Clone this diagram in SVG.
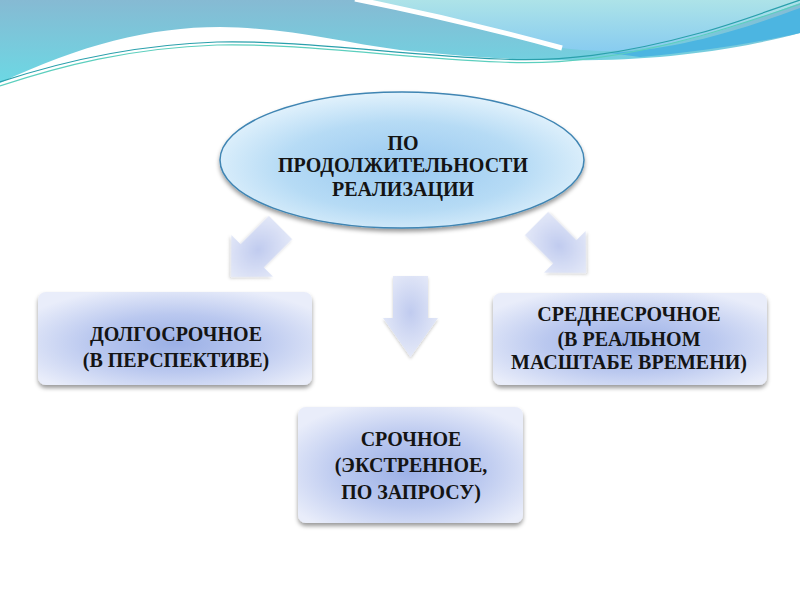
<svg xmlns="http://www.w3.org/2000/svg" width="800" height="600" viewBox="0 0 800 600">
<defs>
<linearGradient id="bandG" x1="0" y1="0" x2="0" y2="1">
<stop offset="0" stop-color="#86bad3"/>
<stop offset="1" stop-color="#6cd8e4"/>
</linearGradient>
<linearGradient id="aquaG" x1="0" y1="0" x2="0" y2="1">
<stop offset="0" stop-color="#ade3e8"/>
<stop offset="1" stop-color="#88ccf0"/>
</linearGradient>
<radialGradient id="ellG" cx="0.5" cy="0.55" r="0.55">
<stop offset="0" stop-color="#98c8f0"/>
<stop offset="0.6" stop-color="#b6dbf5"/>
<stop offset="1" stop-color="#e2f2fc"/>
</radialGradient>
<radialGradient id="boxG" cx="0.5" cy="0.55" r="0.62">
<stop offset="0" stop-color="#9bb0e6"/>
<stop offset="0.5" stop-color="#bac8ef"/>
<stop offset="1" stop-color="#e9edfa"/>
</radialGradient>
<radialGradient id="arrG" cx="0.5" cy="0.45" r="0.6">
<stop offset="0" stop-color="#c0cbef"/>
<stop offset="1" stop-color="#e8ecf9"/>
</radialGradient>
<filter id="sh" x="-10%" y="-10%" width="120%" height="130%">
<feDropShadow dx="0" dy="3" stdDeviation="2" flood-color="#000" flood-opacity="0.4"/>
</filter>
<filter id="shA" x="-20%" y="-20%" width="140%" height="140%">
<feDropShadow dx="0" dy="2" stdDeviation="1.5" flood-color="#000" flood-opacity="0.2"/>
</filter>
<path id="diag" d="M-16.5,-70 H16.5 V-30 H29.5 L0,0 L-29.5,-30 H-16.5 Z"/>
</defs>
<style>
.t{font-family:"Liberation Serif","Times New Roman",serif;font-weight:bold;font-size:20px;fill:#141414;text-anchor:middle}
.box{fill:url(#boxG);filter:url(#sh)}
.arr{fill:url(#arrG);filter:url(#shA)}
</style>
<rect width="800" height="600" fill="#ffffff"/>
<g id="background">
<path d="M0,0 H800 V33 C760,44 690,58 600,60 C520,62 450,55 400,50 C340,42 290,28 220,27 C150,27 80,45 0,83 Z" fill="url(#bandG)"/>
<path d="M610,53 C690,48 750,26 800,8 V33 C760,42 700,52 640,57 Z" fill="#4cb5e1"/>
<path d="M362,0 H800 V3 C740,25 680,48 610,51 C590,51 572,49 562,48 C500,33 420,13 362,0 Z" fill="url(#aquaG)"/>
<path d="M355,-1 C420,12 500,31 562,48" fill="none" stroke="#ffffff" stroke-width="5"/>
<path d="M0,82 C60,62 130,45 217,42 C300,40 400,55 500,59 C560,62 620,55 700,33 C740,22 770,10 800,0" fill="none" stroke="#2aa0ac" stroke-width="1.2"/>
<path d="M0,86 C60,66 130,48 217,45 C300,43 400,58 500,62 C560,65 620,58 700,36 C740,25 770,14 800,4" fill="none" stroke="#5ccfbe" stroke-width="1.2"/>
</g>
<g id="connectors">
<use href="#diag" class="arr" transform="translate(231,277) rotate(45)"/>
<path class="arr" d="M393,276 H428 V318 H438 L410.5,357 L383,318 H393 Z"/>
<use href="#diag" class="arr" transform="translate(586,273) rotate(-45)"/>
</g>
<g id="root">
<ellipse cx="402" cy="160" rx="182" ry="68" fill="url(#ellG)" stroke="#3f85b3" stroke-width="1.5" filter="url(#sh)"/>
<text class="t" x="403" y="150">ПО</text>
<text class="t" x="403" y="172">ПРОДОЛЖИТЕЛЬНОСТИ</text>
<text class="t" x="403" y="196">РЕАЛИЗАЦИИ</text>
</g>
<g id="long">
<rect class="box" x="38" y="292" width="274" height="93" rx="8"/>
<text class="t" x="176" y="341">ДОЛГОСРОЧНОЕ</text>
<text class="t" x="176" y="367">(В ПЕРСПЕКТИВЕ)</text>
</g>
<g id="medium">
<rect class="box" x="493" y="293" width="274" height="92" rx="8"/>
<text class="t" x="629" y="321">СРЕДНЕСРОЧНОЕ</text>
<text class="t" x="629" y="346">(В РЕАЛЬНОМ</text>
<text class="t" x="629" y="369">МАСШТАБЕ ВРЕМЕНИ)</text>
</g>
<g id="urgent">
<rect class="box" x="298" y="407" width="225" height="116" rx="8"/>
<text class="t" x="411" y="446">СРОЧНОЕ</text>
<text class="t" x="411" y="472">(ЭКСТРЕННОЕ,</text>
<text class="t" x="411" y="499">ПО ЗАПРОСУ)</text>
</g>
</svg>
